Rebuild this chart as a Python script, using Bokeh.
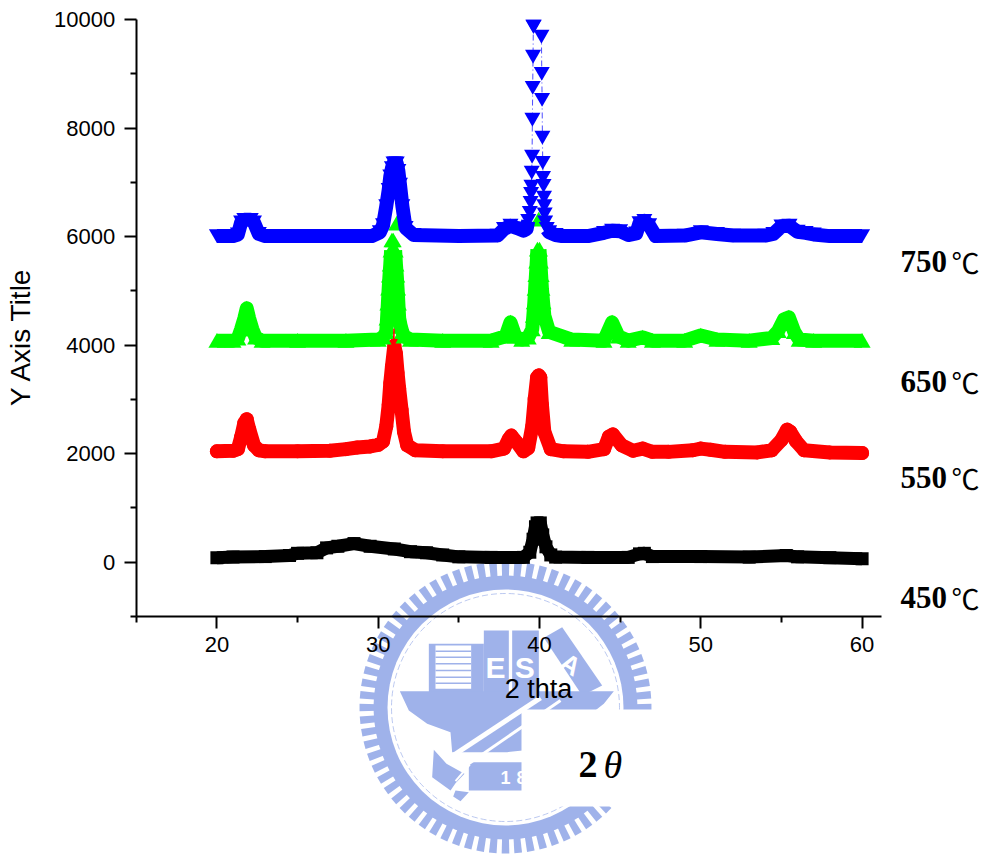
import numpy as np
from bokeh.plotting import figure
from bokeh.models import Range1d, FixedTicker
from bokeh.core.properties import value
from bokeh.embed import file_html
from bokeh.resources import INLINE

# ---------- data ----------
x_major = [20, 30, 40, 50, 60]
x_minor = [15, 25, 35, 45, 55]
y_major = [0, 2000, 4000, 6000, 8000, 10000]
y_minor = [-1000, 1000, 3000, 5000, 7000, 9000]

black_x = [20, 21, 23, 24.5, 25, 26.2, 26.8, 27.5, 28.5, 29.5, 31, 32, 33, 34, 35, 37, 39, 39.4, 39.6, 39.75, 39.85, 40.05, 40.2, 40.4, 40.7, 41, 43, 45.5, 46.2, 46.5, 47, 50, 53, 55.3, 56, 58, 60]
black_y = [80, 90, 100, 120, 160, 170, 260, 290, 340, 290, 240, 190, 170, 130, 95, 85, 85, 180, 420, 650, 720, 720, 500, 280, 130, 90, 85, 85, 150, 160, 100, 100, 90, 120, 95, 80, 60]

red_x = [20, 21, 21.3, 21.5, 21.7, 21.85, 22.0, 22.3, 22.6, 23, 25, 27, 28, 28.7, 29.5, 30, 30.3, 30.5, 30.65, 30.75, 30.85, 30.98, 31.0, 31.1, 31.2, 31.3, 31.45, 31.6, 31.8, 32.3, 34, 37, 37.8, 38.1, 38.25, 38.6, 39, 39.3, 39.55, 39.7, 39.85, 39.95, 40.05, 40.15, 40.3, 40.7, 41.5, 43, 44, 44.3, 44.55, 45.1, 45.8, 46.4, 47, 48, 49.5, 50, 50.6, 51.5, 53.5, 54.4, 55, 55.35, 55.55, 55.9, 56.4, 58, 60]
red_y = [2040, 2050, 2080, 2300, 2560, 2630, 2450, 2150, 2060, 2040, 2040, 2050, 2080, 2110, 2130, 2160, 2220, 2500, 2900, 3300, 3600, 4300, 3990, 3840, 3490, 3200, 2800, 2400, 2150, 2060, 2040, 2040, 2090, 2270, 2330, 2200, 2040, 2100, 2500, 3000, 3400, 3440, 3400, 2900, 2400, 2080, 2040, 2030, 2080, 2310, 2350, 2150, 2050, 2090, 2030, 2030, 2060, 2090, 2070, 2030, 2020, 2060, 2250, 2440, 2400, 2230, 2060, 2020, 2010]

green_x = [20, 21, 21.3, 21.5, 21.7, 21.85, 22.0, 22.2, 22.4, 22.8, 25, 28, 30, 30.3, 30.5, 30.55, 30.6, 30.65, 30.7, 30.75, 30.8, 30.85, 30.93, 31.15, 31.05, 31.1, 31.15, 31.2, 31.25, 31.3, 31.4, 31.5, 31.6, 32, 34, 37, 37.9, 38.2, 38.5, 38.9, 39.3, 39.55, 39.62, 39.68, 39.73, 39.78, 39.83, 39.87, 39.95, 40.0, 40.05, 40.1, 40.15, 40.22, 40.3, 40.6, 42, 44, 44.5, 44.9, 45.5, 46.4, 47, 49, 50, 51, 53, 54.4, 54.8, 55.15, 55.46, 55.8, 56.1, 57, 60]
green_y = [4040, 4040, 4080, 4250, 4450, 4635, 4450, 4250, 4100, 4040, 4040, 4040, 4060, 4100, 4200, 4450, 4728, 5005, 5244, 5447, 5705, 5890, 5890, 6200, 5705, 5447, 5244, 5005, 4728, 4452, 4300, 4200, 4120, 4060, 4040, 4040, 4120, 4378, 4120, 4060, 4100, 4250, 4500, 4750, 5000, 5250, 5500, 5723, 6275, 5723, 5500, 5250, 5000, 4750, 4500, 4200, 4060, 4040, 4378, 4120, 4040, 4100, 4040, 4040, 4135, 4060, 4040, 4090, 4220, 4430, 4470, 4200, 4060, 4040, 4040]

blue_x = [20, 21, 21.3, 21.5, 21.7, 22.1, 22.3, 22.6, 23, 26, 29.6, 30.1, 30.3, 30.5, 30.65, 30.75, 30.85, 30.95, 31.05, 31.15, 31.25, 31.35, 31.5, 31.7, 32.2, 35, 37.4, 37.8, 38.2, 38.7, 39, 39.2, 39.3, 39.4, 39.45, 39.48, 39.5, 39.52, 39.54, 39.56, 39.58, 39.6, 39.62, 39.64, 40.12, 40.14, 40.16, 40.18, 40.2, 40.22, 40.25, 40.28, 40.3, 40.32, 40.35, 40.45, 40.6, 41, 41.4, 43, 44, 44.5, 45, 45.5, 46, 46.2, 46.5, 46.8, 47.2, 49, 50, 51, 52, 54, 54.5, 55, 55.5, 56, 56.5, 57, 58, 60]
blue_y = [6050, 6050, 6080, 6300, 6350, 6350, 6300, 6090, 6050, 6050, 6050, 6120, 6250, 6600, 6900, 7150, 7300, 7390, 7390, 7390, 7250, 7000, 6600, 6200, 6070, 6050, 6060, 6180, 6240, 6190, 6150, 6180, 6330, 6479, 6663, 6829, 6959, 7217, 7512, 8194, 8783, 9355, 9908, 9908, 9724, 9041, 8562, 7862, 7401, 7124, 6977, 6756, 6600, 6450, 6300, 6180, 6120, 6070, 6050, 6050, 6110, 6150, 6140, 6070, 6100, 6290, 6330, 6250, 6050, 6060, 6120, 6090, 6060, 6060, 6090, 6230, 6240, 6130, 6110, 6080, 6050, 6050]

temps = ["750", "650", "550", "450"]
temp_baseline_px = [261, 381, 477, 597]

# ---------- page pixel <-> data helpers for the decorations ----------
X0, XS = 216.4, 16.13
Y0, YS = 561.5, 0.05425
def X(px): return 20 + (np.asarray(px, dtype=float) - X0) / XS
def Y(py): return (Y0 - np.asarray(py, dtype=float)) / YS

WIDTH, HEIGHT = 983, 854
p = figure(width=WIDTH, height=HEIGHT, output_backend="svg", toolbar_location=None,
           x_range=Range1d(float(X(0)), float(X(WIDTH))),
           y_range=Range1d(float(Y(HEIGHT)), float(Y(0))),
           min_border=0, min_border_left=0, min_border_right=0, min_border_top=0, min_border_bottom=0)
p.outline_line_color = None
p.grid.visible = False
p.background_fill_color = "white"

# ---------- axes ----------
xa = p.xaxis[0]
xa.fixed_location = -1000
xa.bounds = (15, 61.2)
xa.ticker = FixedTicker(ticks=x_major, minor_ticks=x_minor)
ya = p.yaxis[0]
ya.fixed_location = 15
ya.bounds = (-1000, 10000)
ya.ticker = FixedTicker(ticks=y_major, minor_ticks=y_minor)
for ax in (xa, ya):
    ax.axis_line_color = "black"
    ax.axis_line_width = 2
    ax.major_tick_line_color = "black"
    ax.major_tick_line_width = 2
    ax.minor_tick_line_color = "black"
    ax.minor_tick_line_width = 2
    ax.major_tick_in = 0
    ax.minor_tick_in = 0
    ax.major_tick_out = 12
    ax.minor_tick_out = 6
    ax.major_label_text_font = "Liberation Sans"
    ax.major_label_text_font_size = "22px"
    ax.major_label_text_color = "black"
    ax.major_label_standoff = 9
ya.major_label_overrides = {v: str(v) for v in y_major}
xa.major_label_overrides = {v: str(v) for v in x_major}

# ---------- watermark (decoration, placed in page pixels) ----------
LOGO = "#9fb2ea"
cx, cy = 505, 707
n_teeth = 72
ang = np.arange(n_teeth) * 2 * np.pi / n_teeth
dt = 0.6 * np.pi / n_teeth
txs, tys = [], []
for a in ang:
    ri, ro = 128, 146
    tx = [cx + ri * np.cos(a - dt), cx + ro * np.cos(a - dt), cx + ro * np.cos(a + dt), cx + ri * np.cos(a + dt)]
    ty = [cy + ri * np.sin(a - dt), cy + ro * np.sin(a - dt), cy + ro * np.sin(a + dt), cy + ri * np.sin(a + dt)]
    txs.append(X(tx).tolist())
    tys.append(Y(ty).tolist())
p.patches(txs, tys, fill_color=LOGO, line_color=None)
p.scatter([float(X(cx))], [float(Y(cy))], size=264, marker="circle", fill_color=LOGO, line_color=None)
p.scatter([float(X(cx))], [float(Y(cy))], size=236, marker="circle", fill_color="white", line_color=None)
p.scatter([float(X(cx))], [float(Y(cy))], size=228, marker="circle", fill_color=None,
          line_color=LOGO, line_width=1, line_dash="6 3", line_alpha=0.7)

def ZX(z): return X(340 + np.asarray(z, dtype=float) / 3)
def ZY(z): return Y(560 + np.asarray(z, dtype=float) / 3)
def poly(zx, zy, color=LOGO):
    p.patch(ZX(zx), ZY(zy), fill_color=color, line_color=None)
def seg(zx, zy, w, color="white"):
    p.line(ZX(zx), ZY(zy), line_color=color, line_width=w)
def logo_text(zx, zy, s, size, angle=0.0):
    p.text([float(ZX(zx))], [float(ZY(zy))], text=[s], text_font=value("Liberation Sans"),
           text_font_style="bold", text_font_size=size, text_align="center",
           text_baseline="middle", text_color="white", angle=angle)

poly([265, 430, 430, 265], [250, 250, 395, 395])
poly([285, 392, 392, 285], [255, 255, 385, 385], "white")
for zy_ in [272, 290, 310, 330, 350, 368]:
    seg([285, 392], [zy_, zy_], 1.5, LOGO)
poly([430, 505, 505, 430], [210, 210, 395, 395])
poly([515, 595, 595, 515], [210, 210, 395, 395])
poly([610, 665, 785, 725], [232, 200, 375, 405])
logo_text(465, 322, "E", "30px")
logo_text(553, 322, "S", "30px")
logo_text(690, 312, "A", "26px", angle=-0.55)
poly([178, 820, 790, 700, 640, 500, 335, 330, 260, 205],
     [392, 392, 430, 500, 560, 575, 575, 515, 490, 450])
poly([385, 640, 640, 385], [605, 605, 690, 690])
logo_text(495, 650, "1", "18px")
logo_text(543, 650, "8", "18px")
poly([280, 318, 372, 345, 330, 275], [568, 610, 640, 668, 690, 650])
poly([345, 385, 360, 338], [690, 695, 722, 708])
seg([315, 600], [600, 412], 5)
seg([358, 660], [628, 420], 3)
seg([345, 388], [662, 612], 2)

# white box that hides part of the watermark
poly([543, 1020, 1020, 543], [447, 447, 738, 738], "white")

# ---------- series ----------
def band(x, y, color, width, mask, shift=0.0):
    x = np.array(x, dtype=float)
    y = np.array(y, dtype=float) + shift
    y[~mask] = np.nan
    p.line(x, y, line_color=color, line_width=width, line_join="round", line_cap="butt")

p.line(black_x, black_y, line_color="black", line_width=13, line_join="round")
p.scatter(black_x, black_y, marker="square", size=13, fill_color="black", line_color=None)

rx, ry = np.array(red_x), np.array(red_y)
p.line(red_x[:21] + red_x[22:], red_y[:21] + red_y[22:], line_color="red", line_width=14,
       line_join="round", line_cap="round")
keep = ry < 4200
p.scatter(rx[keep], ry[keep], marker="circle", size=14, fill_color="red", line_color=None)

gx, gy = np.array(green_x), np.array(green_y)
band(gx, gy, "#00ff00", 14, gy < 5800, shift=40)
p.scatter(gx, gy, marker="triangle", size=17, fill_color="#00ff00", line_color=None)

p.line(red_x[19:24], red_y[19:24], line_color="red", line_width=1)

bux, buy = np.array(blue_x), np.array(blue_y)
mask = ~((bux > 39.3) & (bux < 40.4))
band(bux, buy, "#0000ff", 14, mask, shift=-43)
top = int(np.argmax(bux > 39.7))
p.line(bux[:top], buy[:top], line_color="#0000ff", line_width=1, line_dash="6 3 1 3", line_alpha=0.7)
p.line(bux[top:], buy[top:], line_color="#0000ff", line_width=1, line_dash="6 3 1 3", line_alpha=0.7)
p.scatter(bux, buy, marker="inverted_triangle", size=16, fill_color="#0000ff", line_color=None)

# ---------- texts ----------
SANS = value("Liberation Sans")
SERIF = value("Liberation Serif")
p.text([float(X(538))], [float(Y(688))], text=["2 thta"], text_font=SANS, text_font_size="27px",
       text_align="center", text_baseline="alphabetic", text_color="black")
p.text([float(X(20))], [float(Y(336))], text=["Y Axis Title"], text_font=SANS, text_font_size="28px",
       text_align="center", text_baseline="alphabetic", text_color="black", angle=np.pi / 2)

tx_ = [float(X(900))] * 4
ty_ = [float(Y(b)) for b in temp_baseline_px]
p.text(tx_, ty_, text=temps, text_font=SERIF, text_font_style="bold", text_font_size="31px",
       text_align="left", text_baseline="alphabetic", text_color="black")
p.text([float(X(951))] * 4, [float(Y(b)) for b in temp_baseline_px], text=["\u2103"] * 4,
       text_font=value("Noto Sans CJK SC"), text_font_size="28px", text_align="left",
       text_baseline="alphabetic", text_color="black")

p.text([float(X(578))], [float(Y(764))], text=["2"], text_font=SERIF, text_font_style="bold",
       text_font_size="38px", text_align="left", text_baseline="alphabetic", text_color="black")
p.text([float(X(603))], [float(Y(764))], text=["\u03b8"], text_font=SERIF, text_font_style="italic",
       text_font_size="38px", text_align="left", text_baseline="alphabetic", text_color="black")

open("out.html", "w").write(file_html(p, INLINE))
